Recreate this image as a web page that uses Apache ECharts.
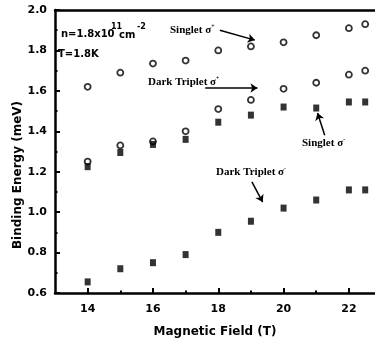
<!DOCTYPE html>
<html>
<head>
<meta charset="utf-8">
<script src="https://cdn.jsdelivr.net/npm/echarts@6/dist/echarts.min.js"></script>
<style>
  html, body { margin: 0; padding: 0; background: #fff; }
  #chart { width: 375px; height: 345px; }
</style>
</head>
<body>
<div id="chart"></div>
<script>
// magnetic field (T)
const fields = [14, 15, 16, 17, 18, 19, 20, 21, 22, 22.5]
// binding energy (meV)
const singletPlus = [1.62, 1.69, 1.735, 1.75, 1.80, 1.82, 1.84, 1.875, 1.91, 1.93]
const darkTripletPlus = [1.25, 1.33, 1.35, 1.40, 1.51, 1.555, 1.61, 1.64, 1.68, 1.70]
const singletMinus = [1.225, 1.295, 1.335, 1.36, 1.445, 1.48, 1.52, 1.515, 1.545, 1.545]
const darkTripletMinus = [0.655, 0.72, 0.75, 0.79, 0.90, 0.955, 1.02, 1.06, 1.11, 1.11]

const xMajorTicks = [14, 16, 18, 20, 22]
const xMinorTicks = [15, 17, 19, 21]

// annotation arrows, [from, to] in data coordinates
const arrows = [
  [[18.05, 1.90], [19.12, 1.851]],
  [[17.6, 1.614], [19.2, 1.614]],
  [[21.26, 1.38], [21.04, 1.49]],
  [[19.03, 1.15], [19.36, 1.05]]
]

const pairs = ys => fields.map((x, i) => [x, ys[i]])

const chart = echarts.init(document.getElementById('chart'))

const tickFont = { fontFamily: 'DejaVu Sans', fontWeight: 'bold', fontSize: 11, color: '#000' }
const serif = 'bold 11px "Liberation Serif"'
const sans = 'bold 10px "DejaVu Sans"'
const sup = 'bold 8px "DejaVu Sans"'

const openCircle = {
  type: 'scatter',
  symbol: 'circle',
  symbolSize: 6,
  itemStyle: { color: '#fff', borderColor: '#000', borderWidth: 1.8 }
}
const filledSquare = {
  type: 'scatter',
  symbol: 'rect',
  symbolSize: [6, 7],
  itemStyle: { color: '#000' }
}

function label(x, y, text) {
  return {
    type: 'text', x: x, y: y,
    style: { text: text, verticalAlign: 'middle', font: sans, fill: '#000' }
  }
}

function sigmaLabel(x, y, text, sign) {
  return {
    type: 'text', x: x, y: y,
    style: {
      text: '{s|' + text + '}{p|' + sign + '}', verticalAlign: 'middle', fill: '#000',
      rich: {
        s: { font: serif, lineHeight: 14 },
        p: { font: 'bold 6px "Liberation Serif"', lineHeight: 6, verticalAlign: 'top' }
      }
    }
  }
}

chart.setOption({
  animation: false,
  grid: { left: 55, top: 10, right: 0, bottom: 52 },
  xAxis: [
    {
      type: 'value',
      min: 13,
      max: 22.8,
      name: 'Magnetic Field (T)',
      nameLocation: 'middle',
      nameGap: 33,
      nameTextStyle: { fontFamily: 'DejaVu Sans', fontWeight: 'bold', fontSize: 12, color: '#000' },
      axisLine: { lineStyle: { color: '#000', width: 2.5 } },
      axisTick: { customValues: xMajorTicks, inside: true, length: 5, lineStyle: { color: '#000', width: 2 } },
      axisLabel: Object.assign({ customValues: xMajorTicks, margin: 11 }, tickFont),
      splitLine: { show: false }
    },
    {
      type: 'value',
      min: 13,
      max: 22.8,
      position: 'bottom',
      axisLine: { show: false },
      axisTick: { customValues: xMinorTicks, inside: true, length: 2.5, lineStyle: { color: '#000', width: 2 } },
      axisLabel: { show: false },
      splitLine: { show: false }
    },
    {
      type: 'value',
      min: 13,
      max: 22.8,
      position: 'top',
      axisLine: { lineStyle: { color: '#000', width: 2.5 } },
      axisTick: { show: false },
      axisLabel: { show: false },
      splitLine: { show: false }
    }
  ],
  yAxis: {
    type: 'value',
    min: 0.6,
    max: 2.0,
    interval: 0.2,
    axisLine: { show: true, lineStyle: { color: '#000', width: 2.5 } },
    axisTick: { show: true, inside: true, length: 5, lineStyle: { color: '#000', width: 2 } },
    minorTick: { show: true, splitNumber: 2, length: 2.5, lineStyle: { color: '#000', width: 2 } },
    axisLabel: Object.assign({ margin: 8, formatter: v => v.toFixed(1) }, tickFont),
    splitLine: { show: false }
  },
  series: [
    Object.assign({ name: 'Singlet σ+', data: pairs(singletPlus) }, openCircle),
    Object.assign({ name: 'Dark Triplet σ+', data: pairs(darkTripletPlus) }, openCircle),
    Object.assign({ name: 'Singlet σ-', data: pairs(singletMinus) }, filledSquare),
    Object.assign({ name: 'Dark Triplet σ-', data: pairs(darkTripletMinus) }, filledSquare),
    {
      type: 'scatter',
      data: [],
      markLine: {
        silent: true,
        symbol: ['none', 'arrow'],
        symbolSize: 7,
        label: { show: false },
        lineStyle: { color: '#000', width: 1.5, type: 'solid' },
        data: arrows.map(a => [{ coord: a[0] }, { coord: a[1] }])
      }
    }
  ],
  graphic: [
    {
      type: 'text', x: 18, y: 175, rotation: Math.PI / 2,
      style: {
        text: 'Binding Energy (meV)', align: 'center', verticalAlign: 'middle',
        font: 'bold 12px "DejaVu Sans"', fill: '#000'
      }
    },
    label(61, 34, 'n=1.8x10'),
    { type: 'text', x: 111, y: 27, style: { text: '11', verticalAlign: 'middle', font: sup, fill: '#000' } },
    label(119, 35, 'cm'),
    { type: 'text', x: 137, y: 27, style: { text: '-2', verticalAlign: 'middle', font: sup, fill: '#000' } },
    label(58, 54, 'T=1.8K'),
    sigmaLabel(170, 30, 'Singlet σ', '+'),
    sigmaLabel(148, 82, 'Dark Triplet σ', '+'),
    sigmaLabel(302, 143, 'Singlet σ', '-'),
    sigmaLabel(216, 172, 'Dark Triplet σ', '-')
  ]
})
</script>
</body>
</html>
